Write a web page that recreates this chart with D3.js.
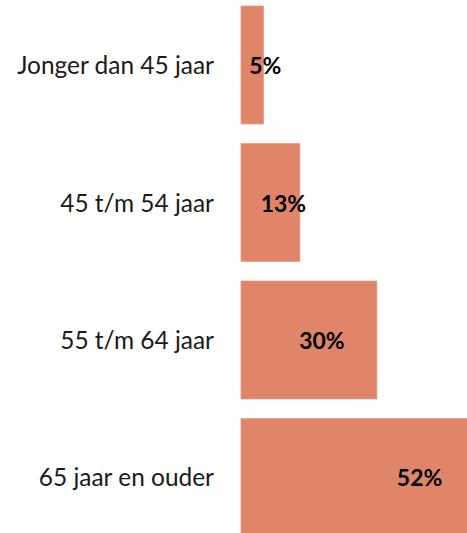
<!DOCTYPE html>
<html>
<head>
<meta charset="utf-8">
<script src="https://cdn.jsdelivr.net/npm/d3@7"></script>
<style>
  html, body { margin: 0; padding: 0; background: #fff; overflow: hidden; }
</style>
</head>
<body>
<div id="chart"></div>
<script>
//~~~~~~~~~~~~~~~~~~~~~~~~~~~~~~~~~~~~
// Data
//~~~~~~~~~~~~~~~~~~~~~~~~~~~~~~~~~~~~
const categories = ["Jonger dan 45 jaar", "45 t/m 54 jaar", "55 t/m 64 jaar", "65 jaar en ouder"];
const values = [5, 13, 30, 52];
const valueLabels = ["5%", "13%", "30%", "52%"];

//~~~~~~~~~~~~~~~~~~~~~~~~~~~~~~~~~~~~
// Chart
//~~~~~~~~~~~~~~~~~~~~~~~~~~~~~~~~~~~~
const width = 467;
const height = 533;
const fontFamily = "Lato, 'Open Sans', sans-serif";

const svg = d3.select("#chart")
    .append("svg")
    .attr("width", width)
    .attr("height", height);

// bars start at 241, about 4.53px per percent (the 52% bar runs off the right edge)
const x = d3.scaleLinear()
    .domain([0, 100])
    .range([241, 241 + 453]);

const y = d3.scaleBand()
    .domain(categories)
    .range([6, 536.5])
    .paddingInner(0.1418)
    .paddingOuter(0);

const data = categories.map((c, i) => ({cat: c, value: values[i], label: valueLabels[i]}));

// fit font size to the width of the longest category label in the reference (~197px)
const probe = svg.append("text")
    .style("font-family", fontFamily)
    .style("font-size", "26px")
    .text(categories[0]);
const catSize = 26 * 197 / probe.node().getComputedTextLength();
probe.style("font-weight", "bold").text("52%");
const valSize = 26 * 45.5 / probe.node().getComputedTextLength();
probe.remove();

svg.append("g")
    .selectAll("rect")
    .data(data)
    .join("rect")
    .attr("x", x(0))
    .attr("y", d => y(d.cat))
    .attr("width", d => x(d.value) - x(0))
    .attr("height", y.bandwidth())
    .attr("fill", "#e0846a")
    .attr("stroke", "#e9a089")
    .attr("stroke-width", 0.8);

svg.append("g")
    .selectAll("text")
    .data(data)
    .join("text")
    .attr("x", 214)
    .attr("y", d => y(d.cat) + y.bandwidth() / 2 + 9)
    .attr("text-anchor", "end")
    .style("font-family", fontFamily)
    .style("font-size", catSize + "px")
    .attr("fill", "#1a1a1a")
    .text(d => d.cat);

// value labels sit a bit right of the bar centre, or well inside the end for long bars
svg.append("g")
    .selectAll("text")
    .data(data)
    .join("text")
    .attr("x", d => {
        const mid = (x(0) + x(d.value)) / 2 + 13;
        return Math.max(mid, x(d.value) - 57);
    })
    .attr("y", d => y(d.cat) + y.bandwidth() / 2 + 9)
    .attr("text-anchor", "middle")
    .style("font-family", fontFamily)
    .style("font-size", valSize + "px")
    .style("font-weight", "bold")
    .attr("fill", "#000")
    .text(d => d.label);
</script>
</body>
</html>
